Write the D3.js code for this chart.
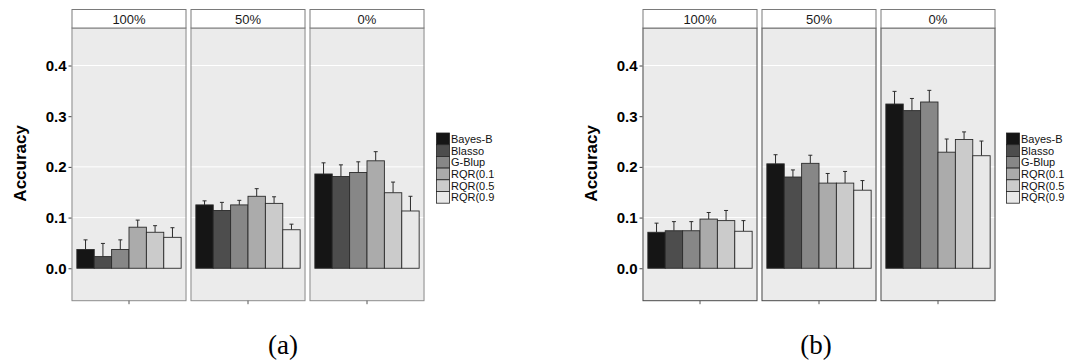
<!DOCTYPE html>
<html>
<head>
<meta charset="utf-8">
<script src="https://cdn.jsdelivr.net/npm/d3@7"></script>
<style>
  html, body { margin: 0; padding: 0; background: #fff; }
  svg { display: block; }
</style>
</head>
<body>
<svg id="chart" width="1070" height="362"></svg>
<script>
// Prediction accuracy of six genomic prediction methods, faceted by scenario.
const methods = ["Bayes-B", "Blasso", "G-Blup", "RQR(0.10)", "RQR(0.50)", "RQR(0.90)"];
const legendLabelsB = ["Bayes-B", "Blasso", "G-Blup", "RQR(0.1", "RQR(0.5", "RQR(0.9"];
const scenarios = ["100%", "50%", "0%"];
const fills = ["#151515", "#4d4d4d", "#878787", "#ababab", "#cbcbcb", "#e8e8e8"];
const yTicks = [0.0, 0.1, 0.2, 0.3, 0.4];
const gridValues = [0.1, 0.2, 0.4];

// Figure (a): mean accuracy and error (upper bar length) per scenario
const accA100 = [0.037, 0.023, 0.037, 0.081, 0.071, 0.061];
const errA100 = [0.019, 0.026, 0.019, 0.014, 0.013, 0.019];
const accA50  = [0.125, 0.114, 0.125, 0.142, 0.128, 0.076];
const errA50  = [0.008, 0.016, 0.009, 0.015, 0.013, 0.011];
const accA0   = [0.186, 0.181, 0.189, 0.212, 0.149, 0.113];
const errA0   = [0.022, 0.023, 0.021, 0.018, 0.021, 0.029];

// Figure (b)
const accB100 = [0.071, 0.074, 0.074, 0.097, 0.094, 0.073];
const errB100 = [0.018, 0.018, 0.018, 0.013, 0.020, 0.021];
const accB50  = [0.206, 0.180, 0.207, 0.168, 0.168, 0.154];
const errB50  = [0.018, 0.014, 0.016, 0.019, 0.023, 0.019];
const accB0   = [0.324, 0.311, 0.328, 0.229, 0.254, 0.222];
const errB0   = [0.025, 0.024, 0.023, 0.026, 0.015, 0.029];

const figures = [
  { id: "a", caption: "(a)", acc: [accA100, accA50, accA0], err: [errA100, errA50, errA0],
    x0: 71.5, frame: "#8c8c8c", legendX: 436.5, clipRight: 494.5, captionX: 283, labels: methods },
  { id: "b", caption: "(b)", acc: [accB100, accB50, accB0], err: [errB100, errB50, errB0],
    x0: 642.5, frame: "#4a4a4a", legendX: 1006.5, clipRight: 1070, captionX: 816, labels: legendLabelsB }
];

const svg = d3.select("#chart");
const panelTop = 28, panelBottom = 300.7, stripTop = 9.5;
const y = d3.scaleLinear().domain([-0.064, 0.474]).range([panelBottom, panelTop]);

figures.forEach(fig => {
  const g = svg.append("g").attr("class", "fig-" + fig.id);

  const facet = d3.scaleBand().domain(scenarios)
    .range([fig.x0, fig.x0 + 353]).paddingInner(4 / 119);
  const pw = facet.bandwidth();

  scenarios.forEach((sc, si) => {
    const px = facet(sc);
    const pg = g.append("g");

    // panel background
    pg.append("rect").attr("x", px).attr("y", panelTop)
      .attr("width", pw).attr("height", panelBottom - panelTop)
      .attr("fill", "#ebebeb");

    // grid lines
    pg.selectAll("line.grid").data(gridValues).join("line")
      .attr("x1", px).attr("x2", px + pw)
      .attr("y1", d => y(d)).attr("y2", d => y(d))
      .attr("stroke", "#ffffff").attr("stroke-width", 1);

    // bars within the facet
    const groupW = pw * 0.907;
    const xb = d3.scaleBand().domain(methods)
      .range([px + (pw - groupW) / 2, px + (pw + groupW) / 2]).padding(0);
    const rows = methods.map((m, i) => ({ m, i, v: fig.acc[si][i], e: fig.err[si][i] }));

    // error bars (upper half)
    const eb = pg.selectAll("g.err").data(rows).join("g");
    eb.append("line")
      .attr("x1", d => xb(d.m) + xb.bandwidth() / 2).attr("x2", d => xb(d.m) + xb.bandwidth() / 2)
      .attr("y1", d => y(d.v)).attr("y2", d => y(d.v + d.e))
      .attr("stroke", "#2b2b2b").attr("stroke-width", 1);
    eb.append("line")
      .attr("x1", d => xb(d.m) + xb.bandwidth() / 2 - 2).attr("x2", d => xb(d.m) + xb.bandwidth() / 2 + 2)
      .attr("y1", d => y(d.v + d.e)).attr("y2", d => y(d.v + d.e))
      .attr("stroke", "#2b2b2b").attr("stroke-width", 1);

    pg.selectAll("rect.bar").data(rows).join("rect")
      .attr("x", d => xb(d.m)).attr("width", xb.bandwidth())
      .attr("y", d => y(d.v)).attr("height", d => y(0) - y(d.v))
      .attr("fill", d => fills[d.i])
      .attr("stroke", "#2a2a2a").attr("stroke-width", 0.9);

    // panel frame
    pg.append("rect").attr("x", px + 0.5).attr("y", panelTop)
      .attr("width", pw - 1).attr("height", panelBottom - panelTop)
      .attr("fill", "none").attr("stroke", fig.frame).attr("stroke-width", 1);

    // strip
    pg.append("rect").attr("x", px + 0.5).attr("y", stripTop)
      .attr("width", pw - 1).attr("height", panelTop - stripTop)
      .attr("fill", "#ffffff").attr("stroke", "#7a7a7a").attr("stroke-width", 1);
    pg.append("text").attr("x", px + pw / 2).attr("y", panelTop - 4.5)
      .attr("text-anchor", "middle")
      .attr("font-family", "Liberation Sans, Arial, sans-serif")
      .attr("font-size", 13).attr("fill", "#1a1a1a").text(sc);

    // x tick at facet centre
    pg.append("line").attr("x1", px + pw / 2).attr("x2", px + pw / 2)
      .attr("y1", panelBottom).attr("y2", panelBottom + 3.5)
      .attr("stroke", "#555").attr("stroke-width", 1);
  });

  // y axis
  const axis = d3.axisLeft(y).tickValues(yTicks).tickFormat(d3.format(".1f"))
    .tickSize(3).tickPadding(2);
  const ag = g.append("g").attr("transform", `translate(${fig.x0},0)`).call(axis);
  ag.select(".domain").remove();
  ag.selectAll(".tick line").attr("stroke", "#444");
  ag.selectAll(".tick text")
    .attr("font-family", "Liberation Sans, Arial, sans-serif")
    .attr("font-size", 15).attr("font-weight", "bold").attr("fill", "#000");

  g.append("text")
    .attr("transform", `translate(${fig.x0 - 46},${(y(0.474) + y(-0.064)) / 2 - 1}) rotate(-90)`)
    .attr("text-anchor", "middle")
    .attr("font-family", "Liberation Sans, Arial, sans-serif")
    .attr("font-size", 17).attr("font-weight", "bold").attr("fill", "#000")
    .text("Accuracy");

  // legend
  const clipId = "clip-" + fig.id;
  svg.append("clipPath").attr("id", clipId).append("rect")
    .attr("x", fig.legendX - 2).attr("y", 120)
    .attr("width", fig.clipRight - fig.legendX + 2).attr("height", 100);
  const lg = g.append("g").attr("clip-path", `url(#${clipId})`);
  const keyH = 11.7, keyW = 13, legTop = 133;
  const ly = d3.scaleBand().domain(methods).range([legTop, legTop + keyH * methods.length]);
  lg.selectAll("rect.key").data(methods).join("rect")
    .attr("x", fig.legendX).attr("y", d => ly(d))
    .attr("width", keyW).attr("height", ly.bandwidth())
    .attr("fill", (d, i) => fills[i])
    .attr("stroke", "#222").attr("stroke-width", 0.8);
  lg.selectAll("text.lab").data(methods).join("text")
    .attr("x", fig.legendX + keyW + 1.5).attr("y", d => ly(d) + ly.bandwidth() / 2 + 4)
    .attr("font-family", "Liberation Sans, Arial, sans-serif")
    .attr("font-size", 11).attr("fill", "#111")
    .text((d, i) => fig.labels[i]);

  // caption
  svg.append("text").attr("x", fig.captionX).attr("y", 354)
    .attr("text-anchor", "middle")
    .attr("font-family", "Liberation Serif, Times New Roman, serif")
    .attr("font-size", 27).attr("fill", "#000")
    .text(fig.caption);
});
</script>
</body>
</html>
